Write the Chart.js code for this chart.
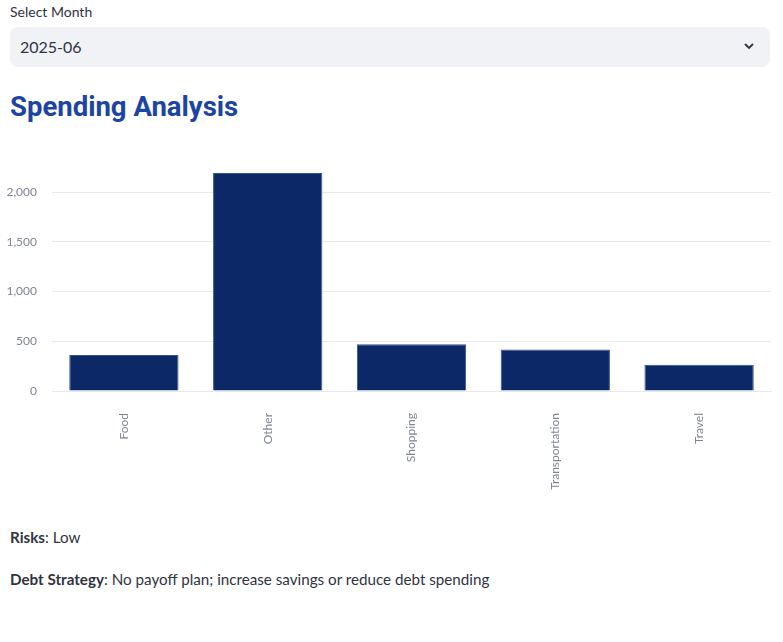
<!DOCTYPE html>
<html>
<head>
<meta charset="utf-8">
<script src="https://cdn.jsdelivr.net/npm/chart.js@4"></script>
<style>
  body { margin: 0; background: #fff; font-family: "Lato", sans-serif; color: #31333f; width: 783px; height: 642px; position: relative; overflow: hidden; }
  .lbl { position: absolute; left: 10px; top: 3px; font-size: 14px; }
  .select { position: absolute; left: 10px; top: 27px; width: 760px; height: 40px; background: #f0f2f6; border-radius: 8px; }
  .select span { position: absolute; left: 10px; top: 10px; font-size: 16px; }
  .select svg { position: absolute; right: 15px; top: 14px; }
  h2 { position: absolute; left: 10px; top: 90px; margin: 0; font-family: "Roboto", sans-serif; font-weight: 700; font-size: 27.5px; color: #1c44a3; }
  .wrap { position: absolute; left: 0; top: 141px; width: 783px; height: 350px; }
  p { position: absolute; left: 10px; margin: 0; font-size: 15.2px; }
</style>
</head>
<body>
<div class="lbl">Select Month</div>
<div class="select"><span>2025-06</span>
  <svg width="12" height="10" viewBox="0 0 12 10"><path d="M2 3 L6 7 L10 3" fill="none" stroke="#31333f" stroke-width="1.8"/></svg>
</div>
<h2>Spending Analysis</h2>
<div class="wrap"><canvas id="c"></canvas></div>
<p style="top:528px"><b>Risks</b>: Low</p>
<p style="top:570px"><b>Debt Strategy</b>: No payoff plan; increase savings or reduce debt spending</p>
<script>
const categories = ['Food', 'Other', 'Shopping', 'Transportation', 'Travel'];
const amounts = [363, 2193, 471, 417, 265];
const yTicks = [0, 500, 1000, 1500, 2000];

const tickFont = { family: 'Lato', size: 12 };
const gray = '#808495';

new Chart(document.getElementById('c'), {
  type: 'bar',
  data: {
    labels: categories,
    datasets: [{
      data: amounts,
      backgroundColor: '#0c2866',
      borderColor: '#33528a',
      borderWidth: 1,
      categoryPercentage: 1,
      barPercentage: 0.76
    }]
  },
  options: {
    responsive: true,
    maintainAspectRatio: false,
    animation: false,
    layout: { padding: { top: 32, right: 12, left: 0, bottom: 0 } },
    plugins: { legend: { display: false }, tooltip: { enabled: false } },
    scales: {
      x: {
        grid: { display: false },
        border: { color: '#e6e9ef' },
        ticks: { color: gray, font: tickFont, minRotation: 90, maxRotation: 90, padding: 14 },
        afterFit: axis => { axis.height = 100; }
      },
      y: {
        min: 0,
        max: Math.max(...amounts),
        border: { display: false },
        grid: { color: '#e6e9ef', drawTicks: false },
        ticks: { color: gray, font: tickFont, padding: 15, callback: v => v.toLocaleString('en-US') },
        afterBuildTicks: axis => { axis.ticks = yTicks.map(v => ({ value: v })); },
        afterFit: axis => { axis.width = 52; }
      }
    }
  }
});
</script>
</body>
</html>
